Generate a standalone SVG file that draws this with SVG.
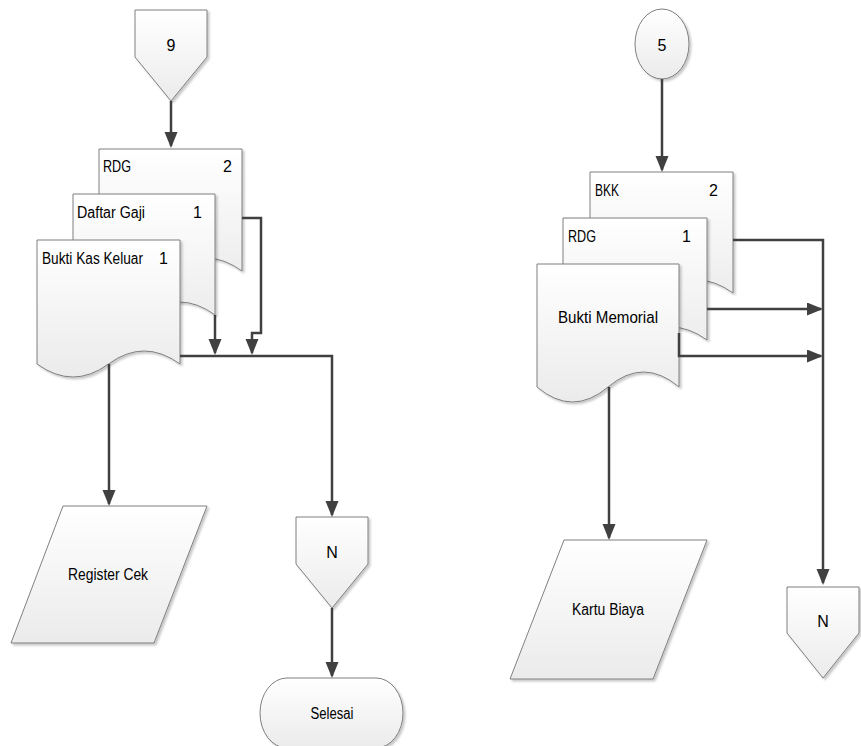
<svg xmlns="http://www.w3.org/2000/svg" width="861" height="746" viewBox="0 0 861 746">
<defs>
<linearGradient id="g" x1="0" y1="0" x2="0" y2="1">
<stop offset="0" stop-color="#ffffff"/>
<stop offset="1" stop-color="#ebebeb"/>
</linearGradient>
<filter id="sh" x="-10%" y="-10%" width="130%" height="130%">
<feDropShadow dx="2" dy="2" stdDeviation="1.2" flood-color="#000" flood-opacity="0.22"/>
</filter>
<marker id="ah" markerUnits="userSpaceOnUse" markerWidth="16" markerHeight="14" refX="14" refY="6.5" orient="auto">
<path d="M0,0 L16,6.5 L0,13 Z" fill="#404040"/>
</marker>
<style>
.s{fill:url(#g);stroke:#7f7f7f;stroke-width:1;filter:url(#sh)}
.t{font-family:"Liberation Sans Narrow","Liberation Sans",Arial,sans-serif;font-size:16px;fill:#000}
.c{text-anchor:middle}
.e{fill:none;stroke:#404040;stroke-width:2.5}
.a{marker-end:url(#ah)}
</style>
</defs>
<rect width="861" height="746" fill="#ffffff"/>

<g id="conn9">
<path class="s" d="M135,10 H207 V57 L171,101 L135,57 Z"/>
<text class="t c" x="171" y="51">9</text>
</g>

<g id="docRDG2">
<path class="s" d="M99,149 H242 V271 Q206,245 170.5,271 Q135,297 99,271 Z"/>
<text class="t" x="103" y="172" textLength="28" lengthAdjust="spacingAndGlyphs">RDG</text>
<text class="t" x="223" y="172">2</text>
</g>

<g id="docDaftarGaji">
<path class="s" d="M73,194 H215 V315 Q179.5,289 144,315 Q108.5,341 73,315 Z"/>
<text class="t" x="77" y="218" textLength="68" lengthAdjust="spacingAndGlyphs">Daftar Gaji</text>
<text class="t" x="193" y="218">1</text>
</g>

<g id="docBKK1">
<path class="s" d="M37,240 H180 V364 Q144,338 108.5,364 Q73,390 37,364 Z"/>
<text class="t" x="42" y="264" textLength="101" lengthAdjust="spacingAndGlyphs">Bukti Kas Keluar</text>
<text class="t" x="159" y="264">1</text>
</g>

<g id="registerCek">
<path class="s" d="M63,506 H207 L154,643 H11 Z"/>
<text class="t c" x="108" y="580" textLength="80" lengthAdjust="spacingAndGlyphs">Register Cek</text>
</g>

<g id="connNLeft">
<path class="s" d="M296,517 H368 V564 L332,608 L296,564 Z"/>
<text class="t c" x="332" y="558">N</text>
</g>

<g id="selesai">
<rect class="s" x="260" y="678" width="143" height="70" rx="27" ry="35"/>
<text class="t c" x="332" y="719" textLength="43" lengthAdjust="spacingAndGlyphs">Selesai</text>
</g>

<g id="conn5">
<ellipse class="s" cx="662" cy="44" rx="27" ry="35"/>
<text class="t c" x="662" y="51">5</text>
</g>

<g id="docBKK2">
<path class="s" d="M590,172 H733 V293 Q697,267 661.5,293 Q626,319 590,293 Z"/>
<text class="t" x="595" y="196" textLength="24" lengthAdjust="spacingAndGlyphs">BKK</text>
<text class="t" x="709" y="196">2</text>
</g>

<g id="docRDG1">
<path class="s" d="M563,218 H707 V340 Q671,314 635,340 Q599,366 563,340 Z"/>
<text class="t" x="568" y="242" textLength="28" lengthAdjust="spacingAndGlyphs">RDG</text>
<text class="t" x="682" y="242">1</text>
</g>

<g id="docBuktiMemorial">
<path class="s" d="M537,264 H679 V387 Q643.5,357 608,387 Q572.5,417 537,387 Z"/>
<text class="t c" x="608" y="323" textLength="100" lengthAdjust="spacingAndGlyphs">Bukti Memorial</text>
</g>

<g id="kartuBiaya">
<path class="s" d="M564,540 H707 L653,679 H510 Z"/>
<text class="t c" x="608" y="615" textLength="72" lengthAdjust="spacingAndGlyphs">Kartu Biaya</text>
</g>

<g id="connNRight">
<path class="s" d="M787,587 H859 V633 L823,678 L787,633 Z"/>
<text class="t c" x="823" y="627">N</text>
</g>

<g id="connectors">
<path class="e a" d="M171,101 V146"/>
<path class="e a" d="M242,218 H261 V333 H252 V353"/>
<path class="e a" d="M215,315 V353"/>
<path class="e a" d="M180,356 H332 V515"/>
<path class="e a" d="M109,364 V504"/>
<path class="e a" d="M332,608 V676"/>
<path class="e a" d="M662,79 V170"/>
<path class="e a" d="M733,240 H823 V583"/>
<path class="e a" d="M707,309 H821"/>
<path class="e a" d="M679,333 V356 H821"/>
<path class="e a" d="M609,387 V538"/>
</g>
</svg>
